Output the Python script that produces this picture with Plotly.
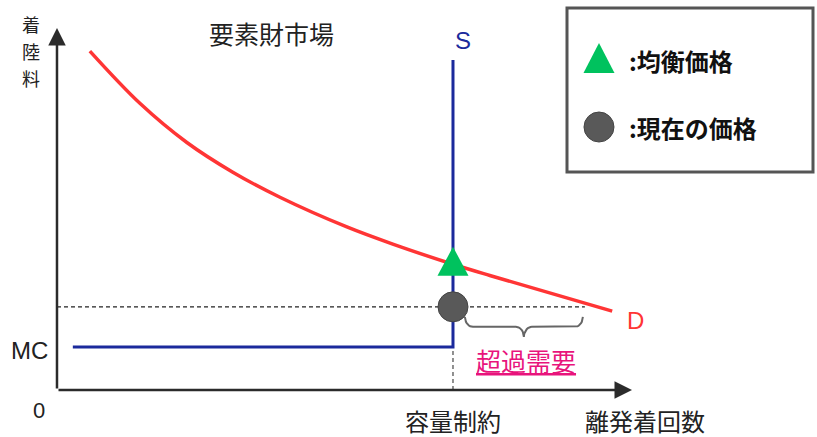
import numpy as np
import plotly.graph_objects as go

# ---------------- data ----------------
demand_x = [8.3, 21.0, 32.8, 44.4, 56.3, 73.2, 84.8, 100.0, 109.3, 140.2]
demand_y = [102.7, 86.8, 75.0, 66.0, 58.4, 49.4, 44.2, 38.1, 34.7, 23.9]
mc_level = 13.0
mc_start = 4.0
capacity = 100.0
supply_top = 100.0
equilibrium_price = 39.0
current_price = 25.2
excess_end = 133.3
brace_x = [103.0, 132.8]
x_axis_end = 145.2
y_axis_end = 109.7

title_text = "要素財市場"
y_label = "着陸料"
x_label = "離発着回数"
cap_label = "容量制約"
excess_label = "超過需要"
legend_labels = [":均衡価格", ":現在の価格"]

# ---------------- layout helpers ----------------
W, H = 817, 437
XR = [-14.39, 191.92]
YR = [-14.24, 118.18]
SX = W / (XR[1] - XR[0])   # px per x unit
SY = H / (YR[1] - YR[0])   # px per y unit


def P(px, py):
    return px / W, 1 - py / H


JP = "Noto Sans CJK JP"
LAT = "Liberation Sans, Arial"
BLUE = "#1b2a9c"
RED = "#ff3535"
GREEN = "#00c25e"
GRAY = "#595959"
AX = "#2b2b2b"

fig = go.Figure()

# dashed current price line
fig.add_trace(go.Scatter(x=[0, excess_end], y=[current_price, current_price], mode="lines",
                         line=dict(color="#222", width=1.3, dash="4px,3px"), hoverinfo="skip"))
# dashed vertical at capacity below MC
fig.add_trace(go.Scatter(x=[capacity, capacity], y=[0, mc_level], mode="lines",
                         line=dict(color="#555", width=1.3, dash="4px,3px"), hoverinfo="skip"))

# demand curve
fig.add_trace(go.Scatter(x=demand_x, y=demand_y, mode="lines", line_shape="spline",
                         line=dict(color=RED, width=3.5, smoothing=1.0), hoverinfo="skip"))

# supply (MC + vertical capacity)
fig.add_trace(go.Scatter(x=[mc_start, capacity, capacity], y=[mc_level, mc_level, supply_top],
                         mode="lines", line=dict(color=BLUE, width=3), hoverinfo="skip"))


def triangle(cx, cy, wpx=31, hpx=29):
    hw = wpx / 2 / SX
    hh = hpx / 2 / SY
    return [cx - hw, cx, cx + hw, cx - hw], [cy - hh, cy + hh, cy - hh, cy - hh]


# equilibrium triangle
tx, ty = triangle(capacity, equilibrium_price)
fig.add_trace(go.Scatter(x=tx, y=ty, mode="lines", fill="toself", fillcolor=GREEN,
                         line=dict(color=GREEN, width=0), hoverinfo="skip"))
# current price circle
fig.add_trace(go.Scatter(x=[capacity], y=[current_price], mode="markers",
                         marker=dict(size=30, color=GRAY, line=dict(color="#444", width=1)),
                         hoverinfo="skip", cliponaxis=False))

# brace under excess demand
x0, x1 = brace_x
xm = (x0 + x1) / 2
r = 8 / SX   # corner radius in x units
top = current_price - 10 / SY
mid = top - 10 / SY
tip = mid - 10 / SY
t = np.linspace(0, np.pi / 2, 10)
bx = list(x0 + r * (1 - np.cos(t)))
by = list(top - (top - mid) * np.sin(t))
bx += list(xm - r + r * np.sin(t))
by += list(mid - (mid - tip) * (1 - np.cos(t)))
bx += list(xm + r - r * np.cos(t))
by += list(tip + (mid - tip) * np.sin(t))
bx += list(x1 - r + r * np.sin(t))
by += list(mid + (top - mid) * (1 - np.cos(t)))
fig.add_trace(go.Scatter(x=bx, y=by, mode="lines", line=dict(color="#666", width=2),
                         hoverinfo="skip"))

# legend box items
lx = (599 - 57) / SX
ltx, lty = triangle(lx, (390 - 58) / SY, 31, 30)
fig.add_trace(go.Scatter(x=ltx, y=lty, mode="lines", fill="toself", fillcolor=GREEN,
                         line=dict(color=GREEN, width=0), hoverinfo="skip"))
fig.add_trace(go.Scatter(x=[lx], y=[(390 - 127) / SY], mode="markers",
                         marker=dict(size=30, color=GRAY, line=dict(color="#444", width=1)),
                         hoverinfo="skip", cliponaxis=False))

shapes = []
bx0, by0 = P(567, 8)
bx1, by1 = P(813, 172)
shapes.append(dict(type="rect", xref="paper", yref="paper", x0=bx0, y0=by1, x1=bx1, y1=by0,
                   line=dict(color="#555", width=3), fillcolor="rgba(0,0,0,0)", layer="below"))

ann = []
# axes arrows
ann.append(dict(x=0, y=y_axis_end, ax=0, ay=0, xref="x", yref="y", axref="x", ayref="y",
                text="", showarrow=True, arrowhead=2, arrowsize=1.4, arrowwidth=2.5,
                arrowcolor=AX))
ann.append(dict(x=x_axis_end, y=0, ax=0, ay=0, xref="x", yref="y", axref="x", ayref="y",
                text="", showarrow=True, arrowhead=2, arrowsize=1.4, arrowwidth=2.5,
                arrowcolor=AX))


def txt(px, py, s, size, color="#222", family=JP, xanchor="center", bold=False):
    x, y = P(px, py)
    if bold:
        s = "<b>" + s + "</b>"
    ann.append(dict(x=x, y=y, xref="paper", yref="paper", text=s, showarrow=False,
                    xanchor=xanchor, yanchor="middle",
                    font=dict(size=size, color=color, family=family)))


txt(271, 33, title_text, 25)
for i, ch in enumerate(y_label):
    txt(31, 24 + i * 27, ch, 18)
txt(463, 40, "S", 24, BLUE, LAT)
txt(635, 320, "D", 24, RED, LAT)
txt(29, 350, "MC", 24, "#222", LAT)
txt(39, 410, "0", 22, "#222", LAT)
txt(453, 420, cap_label, 24)
txt(645, 420, x_label, 24)
txt(526, 360, "<u>" + excess_label + "</u>", 25, "#e8147c")
txt(627, 60, legend_labels[0], 24, "#111", JP, "left", True)
txt(627, 127, legend_labels[1], 24, "#111", JP, "left", True)

fig.update_layout(
    width=W, height=H, margin=dict(l=0, r=0, t=0, b=0),
    paper_bgcolor="white", plot_bgcolor="white", showlegend=False,
    xaxis=dict(range=XR, visible=False, fixedrange=True),
    yaxis=dict(range=YR, visible=False, fixedrange=True),
    shapes=shapes, annotations=ann,
)

fig.write_html("out.html")
